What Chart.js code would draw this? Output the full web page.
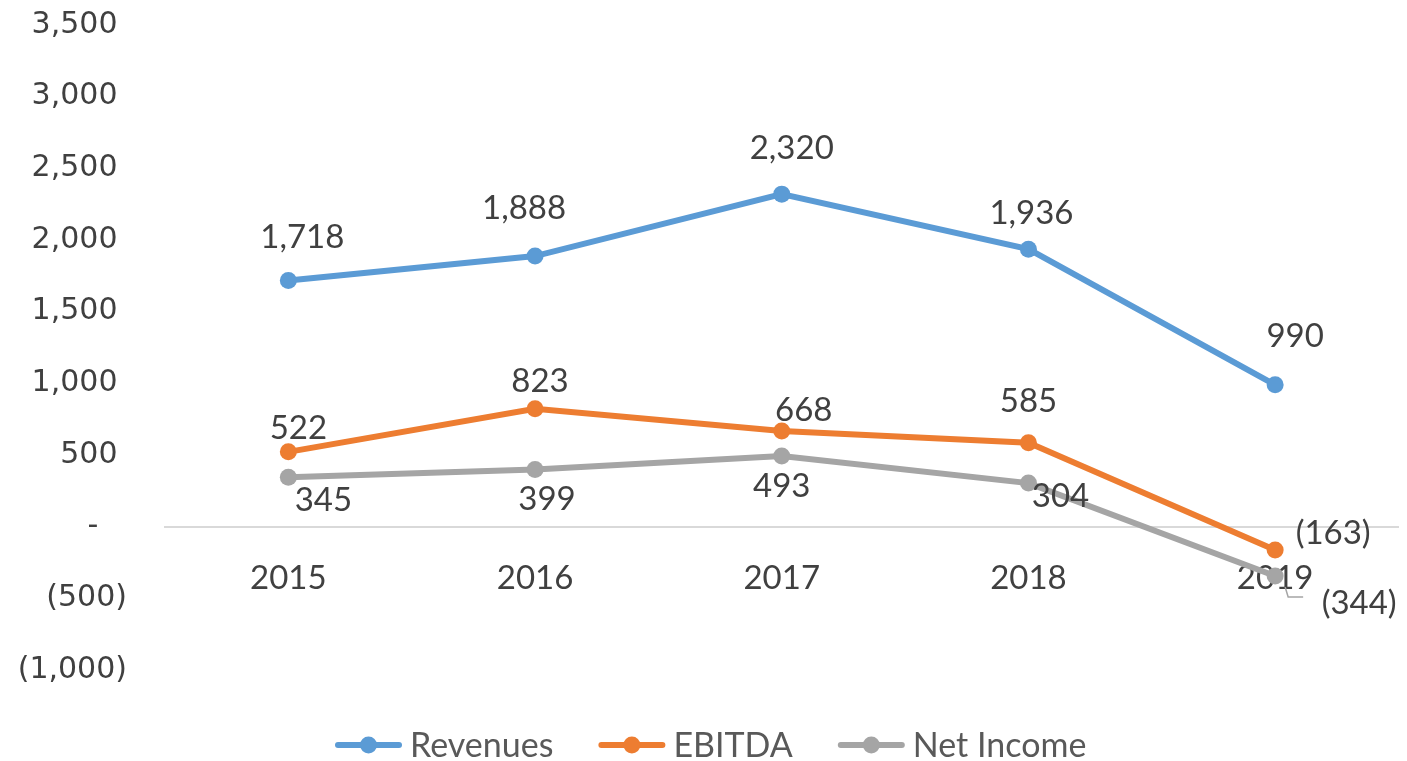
<!DOCTYPE html>
<html lang="en">
<head>
<meta charset="UTF-8">
<title>Revenues, EBITDA and Net Income</title>
<style>
    html, body { margin: 0; padding: 0; background: #fff; }
    .wrap { width: 1407px; height: 761px; position: relative; }
</style>
<script src="https://cdn.jsdelivr.net/npm/chart.js"></script>
</head>
<body>
<div class="wrap"><canvas id="lineChart"></canvas></div>
<script>
    const years = ['2015', '2016', '2017', '2018', '2019'];
    const revenues = [1718, 1888, 2320, 1936, 990];
    const ebitda = [522, 823, 668, 585, -163];
    const netIncome = [345, 399, 493, 304, -344];
    const yMin = -1000, yMax = 3500, yStep = 500;

    // label nudges (dx, dy) from each point, hand-placed like the original
    const labelNudge = [
        [[14, -43], [-11, -48], [10, -46], [3, -36], [20, -48]],
        [[10, -23], [5, -27], [22, -21], [0, -41], [58, -17]],
        [[35, 23], [12, 30], [0, 30], [32, 13], [84, 27]]
    ];

    const textColor = '#404040';

    function acct(v) {
        if (v === 0) return '-';
        const s = Math.abs(v).toLocaleString('en-US');
        return v < 0 ? '(' + s + ')' : s;
    }

    const dataLabels = {
        id: 'dataLabels',
        afterDatasetsDraw(chart) {
            const ctx = chart.ctx;
            ctx.save();
            ctx.font = '33px Lato';
            ctx.fillStyle = textColor;
            ctx.textAlign = 'center';
            ctx.textBaseline = 'middle';
            chart.data.datasets.forEach((ds, i) => {
                chart.getDatasetMeta(i).data.forEach((pt, j) => {
                    const n = labelNudge[i][j];
                    ctx.fillText(acct(ds.data[j]), pt.x + n[0], pt.y + n[1]);
                });
            });
            // little leader line for the last net income label
            const last = chart.getDatasetMeta(2).data[4];
            ctx.strokeStyle = '#a5a5a5';
            ctx.lineWidth = 1.5;
            ctx.beginPath();
            ctx.moveTo(last.x + 10, last.y + 11);
            ctx.lineTo(last.x + 13, last.y + 21);
            ctx.lineTo(last.x + 28, last.y + 21);
            ctx.stroke();
            ctx.restore();
        }
    };

    const customLegend = {
        id: 'customLegend',
        afterDraw(chart) {
            const ctx = chart.ctx;
            const y = 745;
            const symW = 67, gapText = 8, gapItem = 45;
            let x = 335;
            ctx.save();
            ctx.font = '34px Lato';
            chart.data.datasets.forEach(ds => {
                const w = ctx.measureText(ds.label).width;
                ctx.strokeStyle = ds.borderColor;
                ctx.lineWidth = 6;
                ctx.lineCap = 'round';
                ctx.beginPath();
                ctx.moveTo(x + 3, y);
                ctx.lineTo(x + symW - 3, y);
                ctx.stroke();
                ctx.fillStyle = ds.borderColor;
                ctx.beginPath();
                ctx.arc(x + symW / 2, y, 8.5, 0, Math.PI * 2);
                ctx.fill();
                ctx.fillStyle = '#595959';
                ctx.textAlign = 'left';
                ctx.textBaseline = 'middle';
                ctx.fillText(ds.label, x + symW + gapText, y + 1);
                x += symW + gapText + w + gapItem;
            });
            ctx.restore();
        }
    };

    function series(label, data, color) {
        return {
            label: label,
            data: data,
            borderColor: color,
            backgroundColor: color,
            pointBackgroundColor: color,
            borderWidth: 6,
            pointRadius: 8.5,
            pointBorderWidth: 0,
            tension: 0,
            clip: false
        };
    }

    new Chart(document.getElementById('lineChart'), {
        type: 'line',
        data: {
            labels: years,
            datasets: [
                series('Revenues', revenues, '#5b9bd5'),
                series('EBITDA', ebitda, '#ed7d31'),
                series('Net Income', netIncome, '#a5a5a5')
            ]
        },
        options: {
            responsive: true,
            maintainAspectRatio: false,
            animation: false,
            layout: { padding: { top: 25, bottom: 91, right: 6, left: 0 } },
            plugins: {
                legend: { display: false },
                tooltip: { enabled: false }
            },
            scales: {
                x: {
                    type: 'category',
                    offset: true,
                    position: { y: 0 },
                    grid: { display: false, drawTicks: false },
                    border: { display: true, color: '#d9d9d9', width: 2 },
                    ticks: {
                        font: { family: 'Lato', size: 33 },
                        color: textColor,
                        padding: 32,
                        maxRotation: 0,
                        autoSkip: false
                    },
                    afterFit(scale) { scale.height = 0; }
                },
                y: {
                    min: yMin,
                    max: yMax,
                    grid: { display: false, drawTicks: false },
                    border: { display: false },
                    ticks: {
                        stepSize: yStep,
                        font: { family: 'DejaVu Sans', size: 30 },
                        color: textColor,
                        padding: 38,
                        callback: v => {
                            if (v === 0) return '-\u2007\u2008';
                            return v < 0 ? acct(v) : acct(v) + '\u2008';
                        }
                    },
                    afterFit(scale) {
                        scale.width = 165;
                        // tick padding is horizontal only here, keep it off the top/bottom
                        scale.paddingTop = 0;
                        scale.paddingBottom = 0;
                    }
                }
            }
        },
        plugins: [dataLabels, customLegend]
    });
</script>
</body>
</html>
